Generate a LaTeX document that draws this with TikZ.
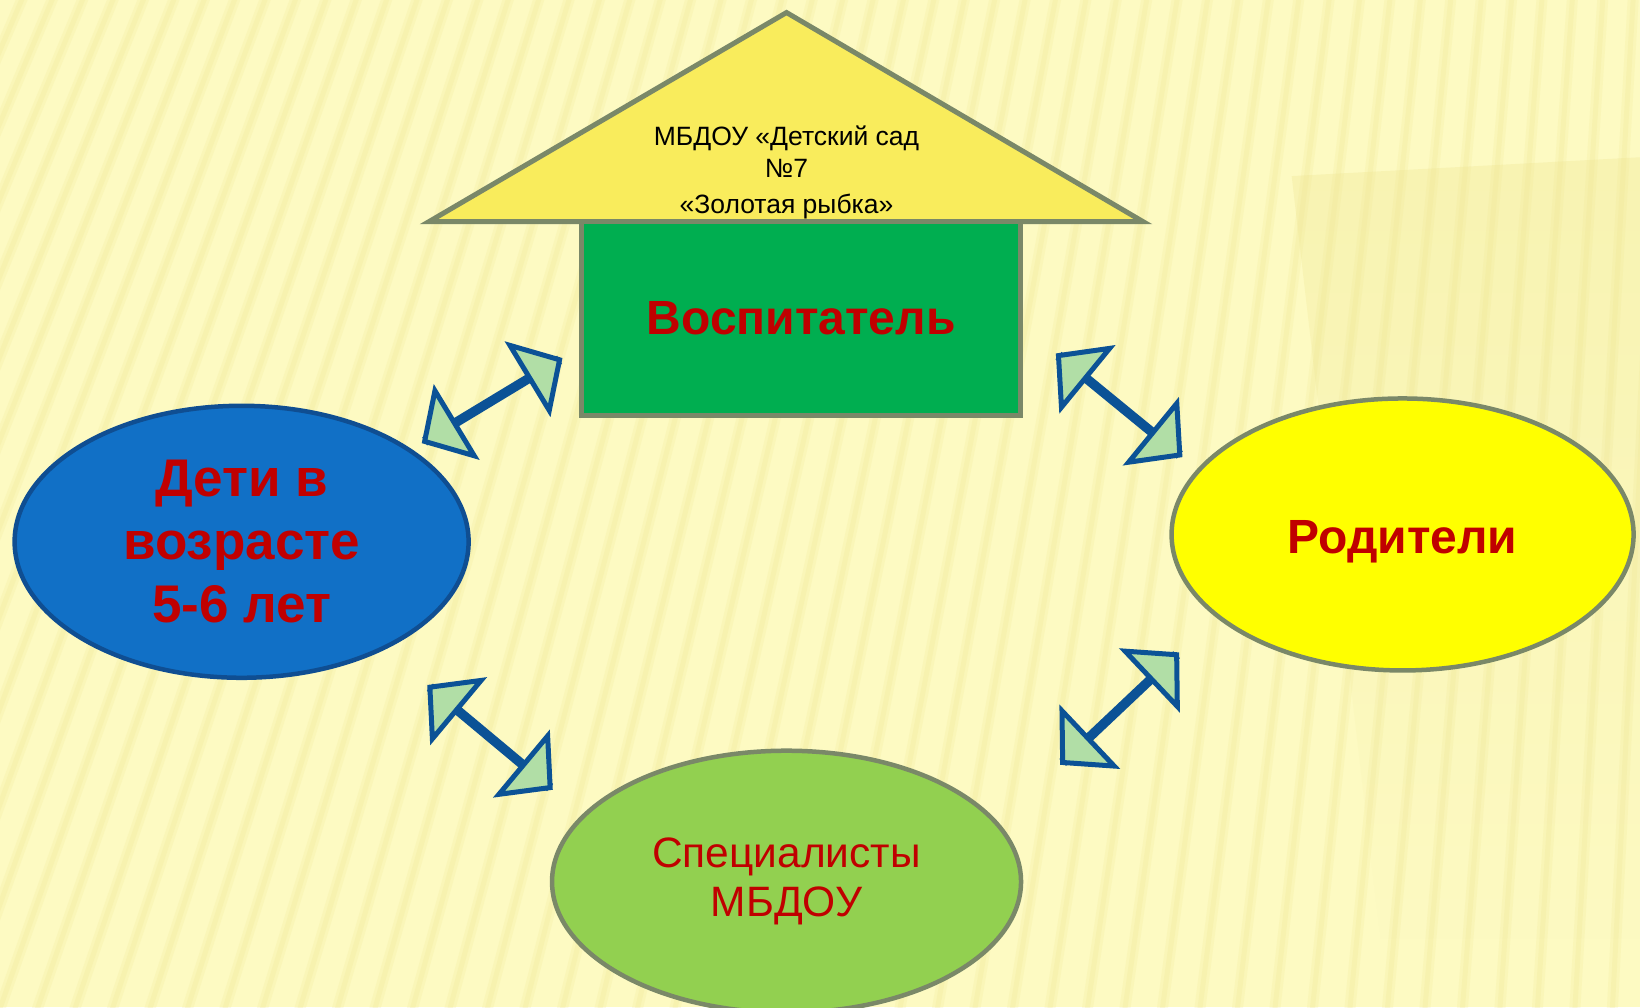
\documentclass[tikz,border=0pt]{standalone}
\usepackage{fontspec}
\setmainfont{Liberation Sans}
\usetikzlibrary{shapes.geometric,calc,fadings}
\definecolor{bgyellow}{HTML}{FDFAC2}
\definecolor{stripecol}{HTML}{EDE48E}
\definecolor{roofyellow}{HTML}{F9EC5C}
\definecolor{housegreen}{HTML}{00AE50}
\definecolor{edgegray}{HTML}{7A8868}
\definecolor{kidsblue}{HTML}{1170C6}
\definecolor{kidsedge}{HTML}{0F4E92}
\definecolor{parentyellow}{HTML}{FFFF00}
\definecolor{specgreen}{HTML}{92D050}
\definecolor{textred}{HTML}{C00000}
\definecolor{arrblue}{HTML}{0B5296}
\definecolor{arrfill}{HTML}{B1DEA6}
\tikzset{
  stripewide/.style={draw=stripecol, line width=11pt, opacity=0.18},
  stripenarrow/.style={draw=stripecol, line width=5pt, opacity=0.2},
  edgeline/.style={draw=edgegray, line width=5pt},
  ellnode/.style={ellipse, inner sep=0pt, align=center, line width=4.5pt},
  arrshaft/.style={draw=arrblue, line width=9.5pt},
  arrhead/.style={draw=arrblue, fill=arrfill, line width=5pt, line join=miter},
  bigred/.style={text=textred, font=\fontsize{53}{63}\selectfont\bfseries},
}
\newcommand\hl{35pt}
\newcommand\hw{38pt}
\newcommand\bidir[2]{%
  \draw[arrshaft] (#1) -- (#2);
  \draw[arrhead] (#1) -- ($(#1)!\hl!(#2)!\hw!90:(#2)$) -- ($(#1)!\hl!(#2)!\hw!-90:(#2)$) -- cycle;
  \draw[arrhead] (#2) -- ($(#2)!\hl!(#1)!\hw!90:(#1)$) -- ($(#2)!\hl!(#1)!\hw!-90:(#1)$) -- cycle;
}
\begin{document}
\begin{tikzpicture}[x=1.045918pt, y=-1.045918pt]
\useasboundingbox (0,0) rectangle (1568,963);
% background
\fill[bgyellow] (0,0) rectangle (1568,963);
\begin{scope}
  \clip (0,0) rectangle (1568,963);
  \fill[stripecol, opacity=0.3, path fading=south] (1235,168) -- (1568,150) -- (1568,900) -- (1320,900) -- cycle;
  \foreach \t in {-700,-671,...,1720} {
    \draw[stripewide] (\t,-10) -- ({\t-430*(1-\t/1800)},975);
    \draw[stripenarrow] (\t,-10) -- ({\t-430*(1-\t/1800)},975);
  }
\end{scope}
% house roof
\coordinate (apex) at (752,12);
\coordinate (roofL) at (410,212);
\coordinate (roofR) at (1093,212);
\filldraw[fill=roofyellow, edgeline, line join=miter] (roofL) -- (apex) -- (roofR) -- cycle;
\node[align=center, font=\fontsize{26.5}{31.5}\selectfont, text=black] (rooftext) at (752,165)
  {МБДОУ «Детский сад\\№7\\[5pt]«Золотая рыбка»};
% house body
\node[rectangle, fill=housegreen, edgeline, minimum width=439pt, minimum height=193.5pt, inner sep=0pt, text=textred, font=\fontsize{48}{55}\selectfont\bfseries] (teacher) at (766,304.5) {Воспитатель};
% ellipses
\node[ellnode, fill=kidsblue, draw=kidsedge, minimum width=454pt, minimum height=272pt, bigred] (kids) at (231,518) {Дети в\\возрасте\\5-6 лет};
\node[ellnode, fill=parentyellow, draw=edgegray, minimum width=462pt, minimum height=272pt] (parents) at (1341,511) {};
\node[text=textred, font=\fontsize{48}{60}\selectfont\bfseries, anchor=base] (parentstext) at (1341,529) {Родители};
\node[ellnode, fill=specgreen, draw=edgegray, minimum width=469pt, minimum height=262pt, text=textred, font=\fontsize{42.5}{49}\selectfont] (spec) at (752,843) {Специалисты\\МБДОУ};
% arrows
\coordinate (a1) at (406,422);
\coordinate (a2) at (535,344);
\coordinate (b1) at (1012,340);
\coordinate (b2) at (1128,435);
\coordinate (c1) at (411,657);
\coordinate (c2) at (526,753);
\coordinate (d1) at (1016,729);
\coordinate (d2) at (1125,626);
\bidir{a1}{a2}
\bidir{b1}{b2}
\bidir{c1}{c2}
\bidir{d1}{d2}
\end{tikzpicture}
\end{document}
